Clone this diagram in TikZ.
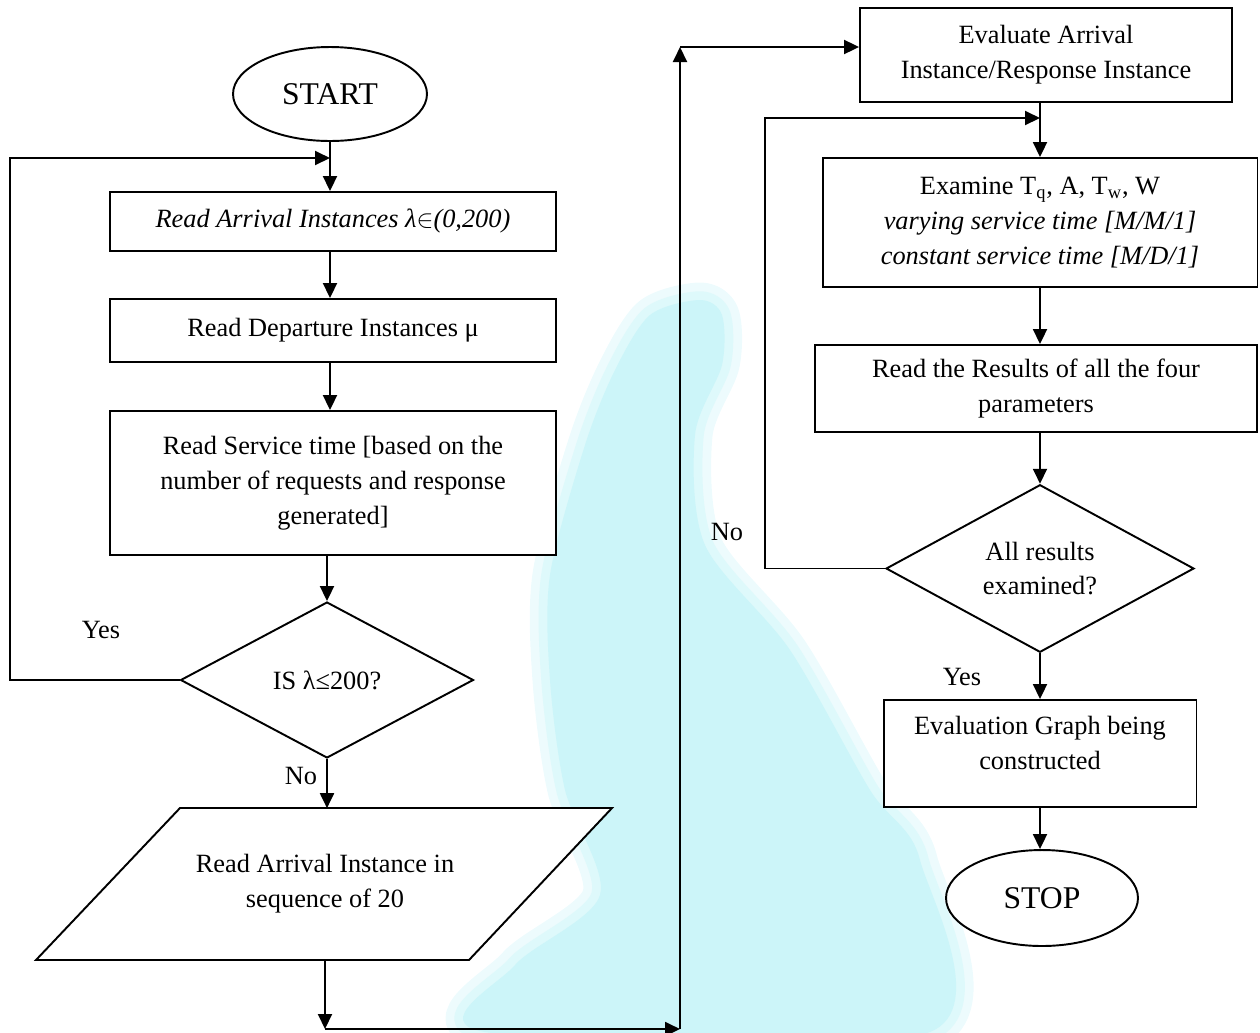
\documentclass[tikz,border=0pt]{standalone}
\usepackage{fontspec}
\setmainfont{Liberation Serif}
\usetikzlibrary{arrows.meta,positioning,shapes.geometric,backgrounds}
\newcommand{\fTxt}{\fontsize{15}{19.8}\selectfont}
\newcommand{\fBig}{\fontsize{18}{22}\selectfont}
\definecolor{wmCyan}{RGB}{204,245,249}
\tikzstyle{nBox}=[rectangle,draw,fill=white,line width=1.1pt,inner sep=0pt,align=center,font=\fTxt]
\tikzstyle{nTerm}=[ellipse,draw,fill=white,line width=1.1pt,inner sep=0pt,font=\fBig]
\tikzstyle{nDec}=[diamond,draw,fill=white,line width=1.1pt,inner sep=0pt,align=center,font=\fTxt]
\tikzstyle{nLbl}=[inner sep=0pt,align=center,font=\fTxt]
\tikzstyle{eArr}=[line width=1.1pt,-{Triangle[length=0.3cm,width=0.28cm]}]
\tikzstyle{eLine}=[line width=1.1pt]

\begin{document}
\begin{tikzpicture}[x=0.02cm,y=-0.02cm]
                \useasboundingbox (0,0) rectangle (1260,1032);
                % watermark
                \draw[wmCyan!35,line width=0.7cm,line join=round,fill=wmCyan!35] plot[smooth cycle,tension=0.5] coordinates {(650,315) (700,300) (722,315) (722,365) (695,435) (705,545) (790,650) (870,790) (920,860) (930,1032) (485,1032) (515,965) (600,895) (565,790) (550,680) (550,575) (585,445) (615,370)};
                \draw[wmCyan!65,line width=0.35cm,line join=round,fill=wmCyan!65] plot[smooth cycle,tension=0.5] coordinates {(650,315) (700,300) (722,315) (722,365) (695,435) (705,545) (790,650) (870,790) (920,860) (930,1032) (485,1032) (515,965) (600,895) (565,790) (550,680) (550,575) (585,445) (615,370)};
                \fill[wmCyan] plot[smooth cycle,tension=0.5] coordinates {(650,315) (700,300) (722,315) (722,365) (695,435) (705,545) (790,650) (870,790) (920,860) (930,1032) (485,1032) (515,965) (600,895) (565,790) (550,680) (550,575) (585,445) (615,370)};
                % left column
                \draw (330,94) node[nTerm,minimum width=3.88cm,minimum height=1.88cm] (start) {START};
                \draw (333,221.5) node[nBox,minimum width=8.92cm,minimum height=1.18cm] (rdArr) {\itshape Read Arrival Instances λ$\in$(0,200)};
                \draw (333,330.5) node[nBox,minimum width=8.92cm,minimum height=1.26cm] (rdDep) {Read Departure Instances μ};
                \draw (333,483) node[nBox,minimum width=8.92cm,minimum height=2.88cm] (rdSrv) {Read Service time [based on the\\ number of requests and response\\ generated]};
                \draw (327,680) node[nDec,minimum width=5.86cm,minimum height=3.12cm] (isLam) {IS λ≤200?};
                \draw[eLine,fill=white] (180,808) -- (612,808) -- (469,960) -- (36,960) -- cycle;
                \draw (325,884) node[nLbl,minimum height=3.02cm] (rdSeq) {Read Arrival Instance in\\ sequence of 20};
                % right column
                \draw (1046,55) node[nBox,minimum width=7.44cm,minimum height=1.88cm] (evArr) {Evaluate Arrival\\ Instance/Response Instance};
                \draw (1040,222.5) node[nBox,minimum width=8.7cm,minimum height=2.58cm] (exam) {Examine T\textsubscript{q}, A, T\textsubscript{w}, W\\ \itshape varying service time [M/M/1]\\ \itshape constant service time [M/D/1]};
                \draw (1036,388.5) node[nBox,minimum width=8.84cm,minimum height=1.74cm] (rdRes) {Read the Results of all the four\\ parameters};
                \draw (1040,568.5) node[nDec,minimum width=6.16cm,minimum height=2.98cm] (allEx) {All results\\ examined?};
                \draw (1040,753.5) node[nBox,minimum width=6.26cm,minimum height=2.14cm] (evGr) {Evaluation Graph being\\ constructed\\[-8pt]};
                \draw (1042,898) node[nTerm,minimum width=3.84cm,minimum height=1.92cm] (stop) {STOP};
                % labels
                \draw (101,630) node[nLbl] (lYes1) {Yes};
                \draw (301,776) node[nLbl] (lNo1) {No};
                \draw (727,532) node[nLbl] (lNo2) {No};
                \draw (962,677) node[nLbl] (lYes2) {Yes};
                % bends
                \coordinate (jA) at (330,158);
                \coordinate (cYes) at (10,158);
                \coordinate (jB) at (325,1029);
                \coordinate (jC) at (680,1029);
                \coordinate (jD) at (680,47);
                \coordinate (jE) at (1040,118);
                \coordinate (cNo) at (765,118);
                \path
                    (start.south) edge[eArr] (start.south |- rdArr.north)
                    (rdArr.south -| start) edge[eArr] (rdDep.north -| start)
                    (rdDep.south -| start) edge[eArr] (rdSrv.north -| start)
                    (rdSrv.south -| isLam) edge[eArr] (isLam.north)
                    (isLam.south) edge[eArr] (rdSeq.north -| isLam)
                    (rdSeq.south) edge[eArr] (jB)
                    (jB) edge[eArr] (jC)
                    (jC) edge[eArr] (jD)
                    (jD) edge[eArr] (jD -| evArr.west)
                    (evArr.south -| exam) edge[eArr] (exam.north)
                    (exam.south) edge[eArr] (rdRes.north -| exam)
                    (rdRes.south -| allEx) edge[eArr] (allEx.north)
                    (allEx.south) edge[eArr] (evGr.north)
                    (evGr.south) edge[eArr] (stop.north -| evGr)
                ;
                \draw[eArr] (isLam.west) -| (cYes) -- (jA);
                \draw[eArr] (allEx.west) -| (cNo) -- (jE);
\end{tikzpicture}
\end{document}
